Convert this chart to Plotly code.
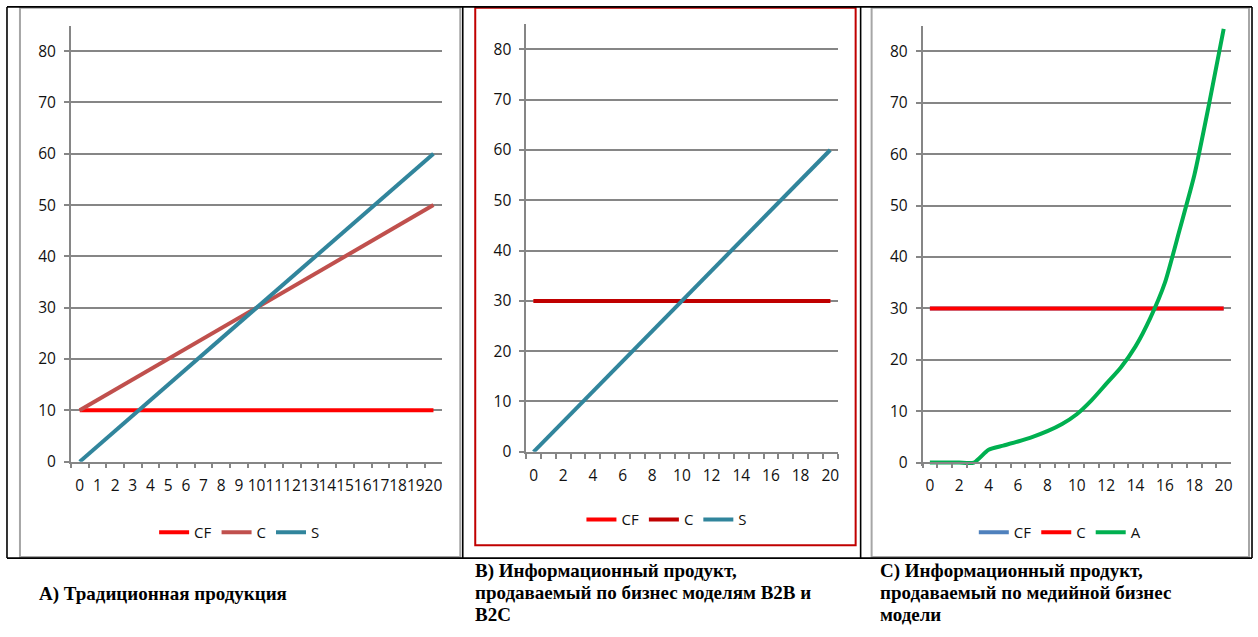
import plotly.graph_objects as go

# ---- data -------------------------------------------------------------
periods = [str(v) for v in range(21)]

# A) traditional product
a_cf = [10, 10, 10, 10, 10, 10, 10, 10, 10, 10, 10, 10, 10, 10, 10, 10, 10, 10, 10, 10, 10]
a_c = [10, 12, 14, 16, 18, 20, 22, 24, 26, 28, 30, 32, 34, 36, 38, 40, 42, 44, 46, 48, 50]
a_s = [0, 3, 6, 9, 12, 15, 18, 21, 24, 27, 30, 33, 36, 39, 42, 45, 48, 51, 54, 57, 60]

# B) information product, B2B / B2C
b_cf = [30, 30, 30, 30, 30, 30, 30, 30, 30, 30, 30, 30, 30, 30, 30, 30, 30, 30, 30, 30, 30]
b_c = [30, 30, 30, 30, 30, 30, 30, 30, 30, 30, 30, 30, 30, 30, 30, 30, 30, 30, 30, 30, 30]
b_s = [0, 3, 6, 9, 12, 15, 18, 21, 24, 27, 30, 33, 36, 39, 42, 45, 48, 51, 54, 57, 60]

# C) information product, media model
c_cf = [30, 30, 30, 30, 30, 30, 30, 30, 30, 30, 30, 30, 30, 30, 30, 30, 30, 30, 30, 30, 30]
c_c = [30, 30, 30, 30, 30, 30, 30, 30, 30, 30, 30, 30, 30, 30, 30, 30, 30, 30, 30, 30, 30]
c_a = [0, 0, 0, 0, 2.5, 3.3, 4.1, 5.0, 6.1, 7.5, 9.4, 12.1, 15.3, 18.5, 22.6, 28.1,
       35.0, 45.3, 55.9, 69.7, 84.4]

y_ticks = [0, 10, 20, 30, 40, 50, 60, 70, 80]
x_labels_all = periods
x_labels_even = [p if int(p) % 2 == 0 else "" for p in periods]

captions = {
    "A": ["А) Традиционная продукция"],
    "B": ["B) Информационный продукт,", "продаваемый по бизнес моделям B2B и", "B2C"],
    "C": ["С) Информационный продукт,", "продаваемый по медийной бизнес", "модели"],
}

# ---- page geometry helpers (pixels -> paper fractions) ------------------
W, H = 1258, 637


def fx(x):
    return x / W


def fy(y):
    return 1 - y / H


GRID = "#868686"
TICK_FONT = dict(family="Open Sans", size=15.5, color="#111111")


def yaxis_style(domain, yrange):
    return dict(
        domain=domain, range=yrange, tickvals=y_ticks, showgrid=True,
        gridcolor=GRID, gridwidth=1.6, showline=True, linecolor=GRID,
        linewidth=1.6, ticks="outside", ticklen=5, tickcolor=GRID,
        tickwidth=1.5, zeroline=False, tickfont=TICK_FONT,
        ticklabelstandoff=5, fixedrange=True,
    )


def xaxis_style(domain, labels):
    return dict(
        domain=domain, type="category", range=[-0.5, 20.5],
        tickson="boundaries", tickvals=periods, ticktext=labels, tickangle=0,
        showgrid=False, showline=True, linecolor=GRID, linewidth=1.6,
        ticks="outside", ticklen=5, tickcolor=GRID, tickwidth=1.5,
        zeroline=False, tickfont=TICK_FONT, ticklabelstandoff=9,
        fixedrange=True,
    )


fig = go.Figure()

LW = 4


def add_line(x, y, name, color, xa, ya, legend, shape="linear"):
    fig.add_trace(go.Scatter(
        x=x, y=y, name=name, mode="lines", xaxis=xa, yaxis=ya,
        legend=legend, line=dict(color=color, width=LW, shape=shape,
                                 smoothing=0.6 if shape == "spline" else None),
        hoverinfo="skip",
    ))


# panel A
add_line(periods, a_cf, "CF", "#FF0000", "x", "y", "legend")
add_line(periods, a_c, "C", "#C0504D", "x", "y", "legend")
add_line(periods, a_s, "S", "#31859C", "x", "y", "legend")
# panel B
add_line(periods, b_cf, "CF", "#FF0000", "x2", "y2", "legend2")
add_line(periods, b_c, "C", "#C00000", "x2", "y2", "legend2")
add_line(periods, b_s, "S", "#31859C", "x2", "y2", "legend2")
# panel C
add_line(periods, c_cf, "CF", "#4F81BD", "x3", "y3", "legend3")
add_line(periods, c_c, "C", "#FF0000", "x3", "y3", "legend3")
add_line(periods, c_a, "A", "#00B050", "x3", "y3", "legend3", shape="spline")

# axis placement
A_x0, A_x1, A_y0, A_k = 71, 443, 469.0, 5.2125
B_x0, B_x1, B_y0, B_k = 527, 839, 459.0, 5.11
C_x0, C_x1, C_y0, C_k = 924, 1233, 469.9, 5.22
C_pad = 0.6  # keeps the flat zero segment from being clipped

layout_axes = dict(
    xaxis=xaxis_style([fx(A_x0), fx(A_x1)], x_labels_all),
    yaxis=yaxis_style([fy(A_y0), fy(A_y0 - 85 * A_k)], [0, 85]),
    xaxis2=xaxis_style([fx(B_x0), fx(B_x1)], x_labels_even),
    yaxis2=yaxis_style([fy(B_y0), fy(B_y0 - 85 * B_k)], [0, 85]),
    xaxis3=xaxis_style([fx(C_x0), fx(C_x1)], x_labels_even),
    yaxis3=yaxis_style([fy(C_y0 + C_pad * C_k), fy(C_y0 - 85 * C_k)], [-C_pad, 85]),
)
layout_axes["xaxis"]["anchor"] = "y"
layout_axes["yaxis"]["anchor"] = "x"
layout_axes["xaxis2"]["anchor"] = "y2"
layout_axes["yaxis2"]["anchor"] = "x2"
layout_axes["xaxis3"]["anchor"] = "free"
layout_axes["xaxis3"]["position"] = fy(C_y0)
layout_axes["yaxis3"]["anchor"] = "x3"


def legend_at(cx, cy):
    return dict(
        orientation="h", x=fx(cx), y=fy(cy), xanchor="center", yanchor="middle",
        bgcolor="rgba(0,0,0,0)", borderwidth=0,
        font=dict(family="Open Sans", size=15, color="#111111"),
        itemclick=False, itemdoubleclick=False,
    )


# frames around the three panels
shapes = []


def box(x0, y0, x1, y1, color, width):
    shapes.append(dict(type="rect", xref="paper", yref="paper",
                       x0=fx(x0), x1=fx(x1), y0=fy(y1), y1=fy(y0),
                       line=dict(color=color, width=width), fillcolor="rgba(0,0,0,0)",
                       layer="below"))


def hline(x0, x1, y, color, width):
    shapes.append(dict(type="line", xref="paper", yref="paper",
                       x0=fx(x0), x1=fx(x1), y0=fy(y), y1=fy(y),
                       line=dict(color=color, width=width)))


def vline(x, y0, y1, color, width):
    shapes.append(dict(type="line", xref="paper", yref="paper",
                       x0=fx(x), x1=fx(x), y0=fy(y0), y1=fy(y1),
                       line=dict(color=color, width=width)))


box(20, 8, 461, 566, "#A6A6A6", 2)
box(476, 8, 857, 554, "#C00000", 2)
box(873, 8, 1251, 566, "#A6A6A6", 2)
hline(7, 1254, 7, "#000000", 1.6)
hline(7, 1254, 567, "#000000", 1.6)
for xv in (7, 463.5, 862, 1254):
    vline(xv, 7, 567, "#000000", 1.6)

# captions under the panels
annotations = []
CAP_FONT = dict(family="Liberation Serif", size=19, color="#000000")


def caption(lines, x, y_first):
    for i, line in enumerate(lines):
        annotations.append(dict(
            text="<b>%s</b>" % line, xref="paper", yref="paper",
            x=fx(x), y=fy(y_first + 22 * i), xanchor="left", yanchor="middle",
            showarrow=False, font=CAP_FONT,
        ))


caption(captions["A"], 37, 603)
caption(captions["B"], 474, 580)
caption(captions["C"], 879, 580)

fig.update_layout(
    width=W, height=H, margin=dict(l=0, r=0, t=0, b=0),
    paper_bgcolor="white", plot_bgcolor="white",
    legend=legend_at(240, 541), legend2=legend_at(668, 528),
    legend3=legend_at(1061.5, 541),
    shapes=shapes, annotations=annotations, **layout_axes,
)

fig.write_html("out.html", config={"displayModeBar": False})
